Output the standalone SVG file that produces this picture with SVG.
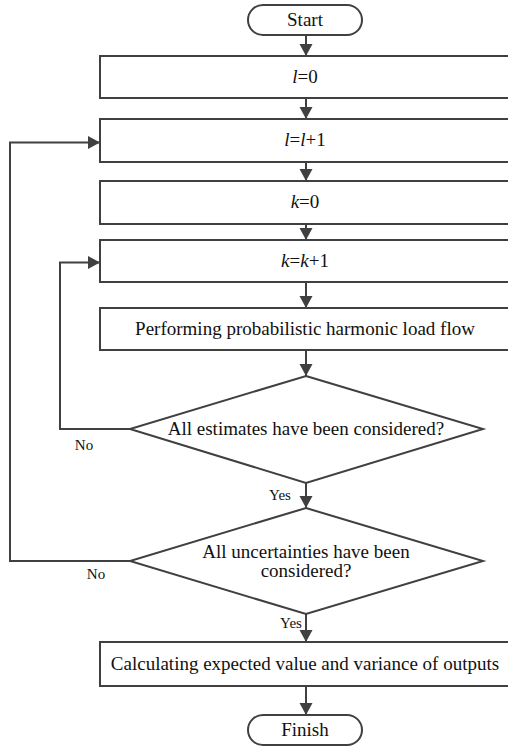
<svg xmlns="http://www.w3.org/2000/svg" width="508" height="746" viewBox="0 0 508 746">
<style>
.s{fill:#fff;stroke:#404040;stroke-width:2}
.c{fill:none;stroke:#404040;stroke-width:2}
text{font-family:'Liberation Serif','Times New Roman','DejaVu Serif',serif;font-size:19px;fill:#111;text-anchor:middle}
.sm{font-size:15px}
.i{font-style:italic}
</style>
<defs>
<marker id="a" markerUnits="userSpaceOnUse" markerWidth="14" markerHeight="14" viewBox="0 0 14 14" refX="13" refY="7" orient="auto">
<path d="M1,0.5 L13,7 L1,13.5 Z" fill="#404040"/>
</marker>
</defs>
<g id="connectors">
<line class="c" x1="306" y1="35" x2="306" y2="56" marker-end="url(#a)"/>
<line class="c" x1="306" y1="98" x2="306" y2="119" marker-end="url(#a)"/>
<line class="c" x1="306" y1="162" x2="306" y2="181" marker-end="url(#a)"/>
<line class="c" x1="306" y1="224" x2="306" y2="240" marker-end="url(#a)"/>
<line class="c" x1="306" y1="282" x2="306" y2="308" marker-end="url(#a)"/>
<line class="c" x1="306" y1="350" x2="306" y2="376" marker-end="url(#a)"/>
<line class="c" x1="306" y1="483" x2="306" y2="508" marker-end="url(#a)"/>
<line class="c" x1="306" y1="614" x2="306" y2="642" marker-end="url(#a)"/>
<line class="c" x1="306" y1="686" x2="306" y2="715" marker-end="url(#a)"/>
<polyline class="c" points="130,429 60,429 60,262.5 100,262.5" marker-end="url(#a)"/>
<polyline class="c" points="130,561 10,561 10,142.5 100,142.5" marker-end="url(#a)"/>
<text class="sm" x="84" y="450">No</text>
<text class="sm" x="96" y="579">No</text>
<text class="sm" x="280" y="500">Yes</text>
<text class="sm" x="291" y="628">Yes</text>
</g>
<g id="start">
<rect class="s" x="248" y="5" width="114" height="30" rx="15"/>
<text x="305" y="26">Start</text>
</g>
<g id="l0">
<rect class="s" x="100" y="56" width="412" height="42"/>
<text x="305" y="83"><tspan class="i">l</tspan>=0</text>
</g>
<g id="l1">
<rect class="s" x="100" y="119" width="412" height="43"/>
<text x="305" y="146"><tspan class="i">l</tspan>=<tspan class="i">l</tspan>+1</text>
</g>
<g id="k0">
<rect class="s" x="100" y="181" width="412" height="43"/>
<text x="305" y="208"><tspan class="i">k</tspan>=0</text>
</g>
<g id="k1">
<rect class="s" x="100" y="240" width="412" height="42"/>
<text x="305" y="267"><tspan class="i">k</tspan>=<tspan class="i">k</tspan>+1</text>
</g>
<g id="phlf">
<rect class="s" x="100" y="308" width="412" height="42"/>
<text x="305" y="335">Performing probabilistic harmonic load flow</text>
</g>
<g id="d1">
<polygon class="s" points="306,376 483,429 306,483 130,429"/>
<text x="306" y="435">All estimates have been considered?</text>
</g>
<g id="d2">
<polygon class="s" points="306,508 483,561 306,614 130,561"/>
<text x="306" y="558">All uncertainties have been</text>
<text x="306" y="577">considered?</text>
</g>
<g id="calc">
<rect class="s" x="100" y="642" width="412" height="44"/>
<text x="305" y="670">Calculating expected value and variance of outputs</text>
</g>
<g id="finish">
<rect class="s" x="248" y="715" width="114" height="30" rx="15"/>
<text x="305" y="736">Finish</text>
</g>
</svg>
